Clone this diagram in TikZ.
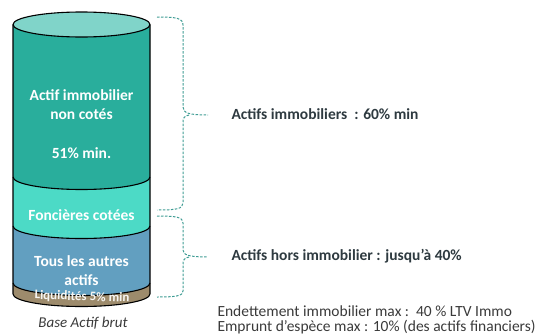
\documentclass[tikz,border=0pt]{standalone}
\usepackage{fontspec}
\setmainfont{Carlito}
\definecolor{tealdark}{HTML}{29AE9C}
\definecolor{teallid}{HTML}{80D4C9}
\definecolor{teallight}{HTML}{4CDAC6}
\definecolor{steel}{HTML}{629FC0}
\definecolor{sand}{HTML}{9D8B6C}
\definecolor{bracecol}{HTML}{3F9C94}
\definecolor{txtdark}{HTML}{2E3A40}
\definecolor{txtgray}{HTML}{3A3A3A}
\begin{document}
\begin{tikzpicture}[x=1pt,y=1pt,
  band/.style={draw=black, line width=1.1pt},
  intext/.style={text=white, font=\fontsize{15.5}{19}\selectfont\bfseries, align=center},
  sidetext/.style={anchor=west, text=txtdark, font=\fontsize{15.5}{18}\selectfont\bfseries},
  notetext/.style={anchor=west, text=txtgray, font=\fontsize{15.5}{16}\selectfont},
  bracedash/.style={draw=bracecol, dashed, dash pattern=on 2.5pt off 1.5pt, line width=1pt}]
\useasboundingbox (0,0) rectangle (544,-335);
% bands of the cylinder
\fill[tealdark] (13,-24.5) -- (13,-177) arc[start angle=180,end angle=360,x radius=68.5,y radius=12.5] -- (150,-24.5) -- cycle;
\fill[teallight] (13,-177) -- (13,-226) arc[start angle=180,end angle=360,x radius=68.5,y radius=12.5] -- (150,-177) arc[start angle=0,end angle=-180,x radius=68.5,y radius=12.5] -- cycle;
\fill[steel] (13,-226) -- (13,-283) arc[start angle=180,end angle=360,x radius=68.5,y radius=12.5] -- (150,-226) arc[start angle=0,end angle=-180,x radius=68.5,y radius=12.5] -- cycle;
\fill[sand] (13,-283) -- (13,-294) arc[start angle=180,end angle=360,x radius=68.5,y radius=12.5] -- (150,-283) arc[start angle=0,end angle=-180,x radius=68.5,y radius=12.5] -- cycle;
% outline
\draw[band] (13,-24.5) -- (13,-294) arc[start angle=180,end angle=360,x radius=68.5,y radius=12.5] -- (150,-24.5);
\draw[band] (13,-177) arc[start angle=180,end angle=360,x radius=68.5,y radius=12.5];
\draw[band] (13,-226) arc[start angle=180,end angle=360,x radius=68.5,y radius=12.5];
\draw[band] (13,-283) arc[start angle=180,end angle=360,x radius=68.5,y radius=12.5];
\draw[band, fill=teallid] (81.5,-24.5) ellipse[x radius=68.5,y radius=12.5];
% liquidity label, cut by the bottom edge
\begin{scope}
\clip (13,-270) -- (13,-294) arc[start angle=180,end angle=360,x radius=68.5,y radius=12.5] -- (150,-270) -- cycle;
\node[text=white!92!sand, font=\fontsize{13}{14}\selectfont\bfseries, rotate=-2] (liquid) at (82,-297) {Liquidités 5\% min};
\end{scope}
% labels inside
\node[intext] (nonCotes) at (81.5,-105) {Actif immobilier\\non cotés};
\node[intext] (minImmo) at (81.5,-153) {51\% min.};
\node[intext] (foncieres) at (81.5,-215) {Foncières cotées};
\node[intext] (autres) at (81.5,-271) {Tous les autres\\actifs};
\node[text=txtgray, font=\fontsize{15}{16}\selectfont\itshape] (base) at (83,-323) {Base Actif brut};
% braces
\draw[bracedash] (157,-17) .. controls (176,-17) and (183,-18) .. (183,-25) -- (183,-107) .. controls (183,-113) and (189,-115) .. (208,-115);
\draw[bracedash] (189,-115) .. controls (184,-116) and (183,-118) .. (183,-123) -- (183,-203) .. controls (183,-209) and (176,-210) .. (157,-210);
\draw[bracedash] (157,-216) .. controls (176,-216) and (183,-217) .. (183,-223) -- (183,-250) .. controls (183,-255) and (189,-257) .. (208,-257);
\draw[bracedash] (189,-257) .. controls (184,-258) and (183,-260) .. (183,-265) -- (183,-291) .. controls (183,-296) and (176,-297) .. (157,-297);
% texts on the right
\node[sidetext] (immo) at (228,-114) {Actifs immobiliers\ \ : 60\% min};
\node[sidetext] (horsImmo) at (228,-256) {Actifs hors immobilier : jusqu’à 40\%};
\node[notetext] (endett) at (214,-311) {Endettement immobilier max :\ \ 40 \% LTV Immo};
\node[notetext] (emprunt) at (214,-327) {Emprunt d’espèce max : 10\% (des actifs financiers)};
\end{tikzpicture}
\end{document}
